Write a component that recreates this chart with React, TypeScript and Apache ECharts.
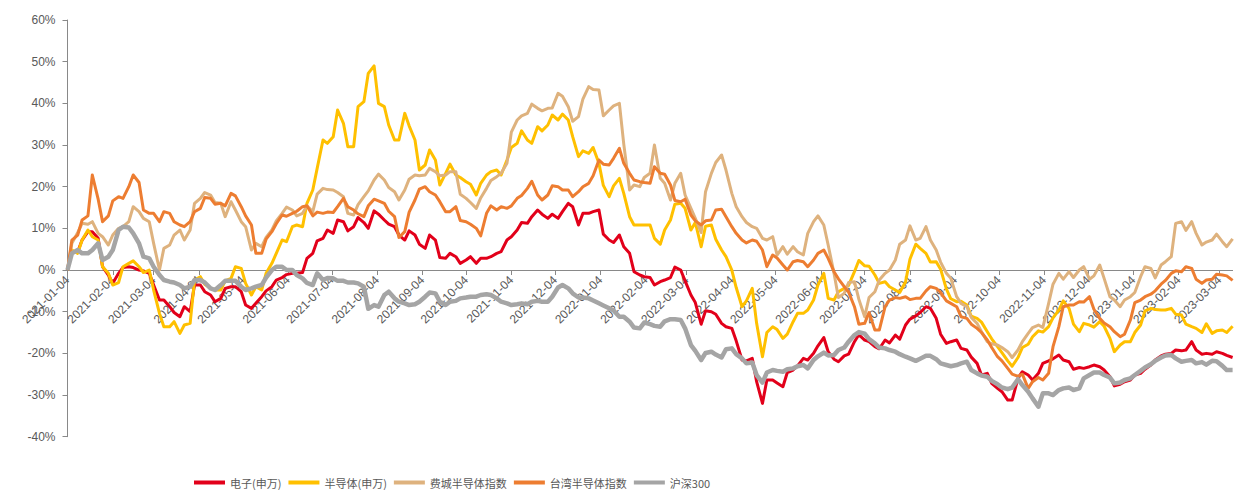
import React, { useEffect, useRef } from 'react';
import * as echarts from 'echarts';

// Calendar range of the x axis (one category per calendar day)
const START_UTC = Date.UTC(2021, 0, 4);
const END_UTC = Date.UTC(2023, 2, 13);

const seriesNames = ['电子(申万)', '半导体(申万)', '费城半导体指数', '台湾半导体指数', '沪深300'];

// Sample points: every Monday and Thursday from 2021-01-04 (offset in days from start)
const sampleOffsets: number[] = [];
for (let w = 0; w <= 114; w++) {
  sampleOffsets.push(w * 7);
  if (w < 114) sampleOffsets.push(w * 7 + 3);
}

// Cumulative return, % (Mon, Thu, Mon, Thu, ...)
const dianzi = [
  0, 4.4, 4.4, 7.2, 9.2, 9.2, 7.6, 0.8, -1.2, -3.2, -0.8, 0.6, 0.8, 0.6, 0, -0.2, -0.8, -3.6, -7.2, -7.2,
  -8.8, -10.2, -11.2, -8.8, -10, -3.6, -3.6, -5.2, -6, -7.6, -6.8, -4.4, -4, -4, -5.2, -8.4, -9.2, -8,
  -6.4, -5, -4, -2.4, -1.8, -1.1, -0.8, -0.8, -0.6, 2.8, 4, 7, 7.6, 9.6, 8.8, 12, 11.6, 9.4, 10.4, 12.6,
  11.4, 10, 14.2, 13.4, 12, 11, 10.4, 8.4, 7.2, 9.4, 8.4, 6.2, 5.2, 8.4, 7.2, 3, 2.8, 4,
  3.2, 1.6, 2.4, 3.2, 1.6, 2.8, 2.8, 3.2, 4, 4.4, 7.2, 8, 9.6, 11.4, 11.2, 12.8, 14.4, 13.4, 12.4, 13.4,
  12.4, 14, 16, 15.2, 10.8, 13.6, 13.6, 14, 14.4, 8.6, 7.2, 6.6, 8.4, 5.6, 4, -0.4, -1.2, -1.6,
  -1.8, -3.6, -2.8, -2.4, -1.8, 0.7, 0, -2.6, -6, -7.8, -13, -9.8, -10, -10.6, -12.8, -13.6, -14, -17,
  -21.6, -21.8, -21.2, -26.8, -32, -26.4, -26.4, -27.1, -28, -24.6, -24, -23, -21.2, -21.6, -20, -18.2, -16.2, -19.6,
  -21.4, -22, -20.6, -20.2, -17.2, -15.5, -16.8, -17.2, -18.4, -18.9, -16.8, -17.5, -15.6, -16.6, -13.2, -11.8, -11, -10.2, -8.8, -9.2,
  -11.6, -15.4, -17.6, -17.2, -16.8, -18.8, -19.2, -20.9, -22.4, -25.2, -24.8, -27.2, -28.4, -29.2, -31.2, -31.2, -26, -24.4,
  -25.2, -26.4, -24.8, -22.4, -21.8, -21.3, -20.4, -21.6, -22, -23.8, -23.4, -23.6, -23.2, -22.8, -23.2, -24, -25.6, -27.8, -27.4, -26.8,
  -26.4, -25.2, -24.8, -23.8, -22.8, -21.6, -20.6, -20.2, -20, -19.2, -19.4, -19.2, -17.2, -19.2, -20.2, -20, -20.2, -19.6, -20, -20.5, -21,
];
const bandaoti = [
  0, 4.8, 4, 7.2, 9.6, 8, 7.2, 0.8, -0.8, -3.6, -3, 0.8, 1.6, 2.2, 0.8, -0.6, 0, -4.8, -10.4, -13.6,
  -13.6, -12.4, -15.2, -13.2, -12.8, -2.4, -1.6, -3.4, -4.4, -4.8, -4.8, -2.6, -2, 0.8, 0.4, -3.2, -6, -4,
  -4.8, -0.8, 1.6, 4, 7.2, 6.8, 10.4, 10.8, 10.4, 16, 19.2, 24.4, 31.2, 30.4, 32, 38.4, 35.2, 29.6, 29.6, 39.2,
  40.4, 47.2, 49, 40, 39.2, 34.8, 31.2, 31.2, 37.6, 34.6, 31.2, 24, 25.2, 28.8, 26.4, 20.4, 23.2, 25.4,
  22.8, 22.2, 21.2, 20.6, 18, 20.8, 22.8, 23.6, 24, 22.8, 26.4, 29.4, 30.4, 33.4, 31.2, 30.4, 34.4, 33.4, 34.8, 37.2,
  36, 37.4, 36, 32, 27.2, 28.6, 28, 29.4, 25.6, 20.3, 17.6, 20.2, 22, 18.4, 12.8, 10.8, 10.8, 10.8,
  10.8, 7.6, 6.2, 9.6, 12, 15.8, 16, 14.8, 9.6, 11.4, 5.6, 10.5, 10.8, 7.4, 4.8, 3.2, 0, -4.2,
  -8.8, -7.4, -4.4, -12.8, -20.8, -15, -13.6, -14.3, -16.4, -15.4, -12.4, -10.4, -10.4, -9.6, -7.2, -3.6, -0.8, -6.8,
  -7.2, -5.2, -4.4, -3.7, -0.4, 2.3, 1, 0.9, -1.2, -3.2, -2.8, -4, -4.8, -5.4, -2.8, 2.6, 6.2, 5.2, 4, 1.9,
  2, 0.2, -4.6, -6.9, -7.6, -7.5, -8.4, -11.1, -11.6, -12.5, -14.8, -16.5, -18.4, -19.8, -21.8, -23.1, -21, -18.6,
  -17.8, -16, -14.6, -14.9, -13.6, -11.5, -9.6, -7.4, -9.2, -13, -14.8, -12.8, -13.2, -13.7, -12.4, -13.5, -16.4, -19.6, -18, -17.2,
  -17.2, -15, -13.2, -9.8, -9.2, -9.5, -9.6, -9.6, -9.2, -10.6, -10.8, -13, -13.6, -14, -15, -12.9, -15.2, -14.6, -14.4, -15, -13.5,
];
const feicheng = [
  0, 6.4, 9, 11.2, 11, 11.6, 8.8, 8, 6, 8.4, 10, 10.4, 11.6, 15.2, 14, 12.4, 11.6, 6.4, 0, 5.2,
  6, 8.4, 9.6, 7.2, 9.6, 16, 17.2, 18.6, 18, 16.2, 16, 12.8, 16.4, 14.4, 11.6, 10.4, 4.8, 6.4,
  5.6, 7.8, 9.6, 11.8, 13.6, 15.1, 14.4, 13, 13.6, 15.4, 14, 18.2, 19.6, 19.3, 19.2, 18.6, 17.6, 13.6, 13.2, 15.7,
  17.6, 19, 21.6, 23, 21.6, 19.8, 18.8, 16.8, 19.2, 21.8, 22.8, 22.6, 22.8, 24.4, 23.6, 22.6, 22.8, 23.6,
  23.6, 18.2, 17.2, 16.2, 14.8, 17.3, 19.6, 21.5, 22.4, 23.2, 25.6, 33.1, 36, 37, 37.6, 39.8, 38.8, 38.2, 38.8, 38.9,
  42.4, 41.7, 39.2, 35.7, 36.8, 41, 44, 43.3, 43.2, 37, 38.4, 39.4, 40, 30.2, 19.2, 20.4, 20, 22.2,
  23.2, 30, 22, 20.8, 16.8, 20.8, 23.2, 18, 14.8, 12.4, 9, 18.8, 23.2, 25.8, 27.6, 24, 18.4, 15.2,
  12.8, 11.4, 10.4, 10, 7.6, 7.2, 8, 3.6, 5.6, 3.8, 5.6, 4.4, 3.6, 8.8, 11.6, 13, 10.8, 6,
  -0.8, -6.6, -5.6, -3, -2.8, -7, -11.2, -6.6, -5.2, -2.4, -0.8, 0, 2.4, 6.2, 7.2, 10.6, 7.2, 7.6, 10.4, 7.2,
  4.8, 1.9, -0.8, -2, -6.4, -8, -8.8, -11.4, -12.8, -14.8, -17.2, -17.7, -18, -18.6, -19.6, -21, -19.2, -17.2,
  -15.2, -13.8, -13.2, -13.8, -8, -3.4, -0.8, -2.2, -0.4, -1.8, 0, 0.8, -2.2, -1.4, 1.2, -2, -6.4, -7.2, -8.8, -7.2,
  -6.4, -5.4, -1.6, 0.8, 0.4, -1.9, 1.2, 2, 3.2, 11.2, 11.6, 9.5, 11.6, 8.8, 6, 6.7, 7.2, 8.6, 6.8, 5.6, 7.5,
];
const taiwan = [
  0, 7.2, 8.4, 12, 13, 22.8, 17, 11.6, 13, 16.6, 17.6, 17.2, 20, 22.8, 21, 14.4, 13.6, 13.6, 11.6, 14,
  13.6, 11.6, 10.8, 10.4, 11.6, 14, 14.8, 17.4, 17.2, 15.8, 16, 15.4, 18.4, 17.8, 15.2, 13, 10.8, 4,
  4, 7.4, 9.2, 11.1, 13.2, 12.9, 13.6, 14.1, 15.2, 15.4, 13, 13.9, 13.6, 13.9, 13.8, 15.2, 17.2, 15.2, 14.4, 13.5,
  12.8, 15.4, 17, 16.6, 16, 14.1, 12.8, 7.8, 9.2, 13.9, 16.8, 19.4, 20, 18.8, 18, 16.4, 14, 14,
  15.2, 11.9, 11.6, 11, 10, 8.2, 13.6, 15.4, 14.4, 15.2, 14.8, 15.4, 17.2, 17.9, 19.6, 21.3, 18, 16.8, 18, 20.2,
  20, 19.2, 19.2, 17.6, 18.8, 20, 20.8, 22.6, 26.4, 25.4, 25.2, 26.8, 29.2, 25.6, 23.2, 21.6, 21.2, 21,
  20.8, 24.8, 23.2, 23, 20.4, 16.7, 16.4, 17, 13.2, 11.8, 10.8, 11.8, 12, 14.4, 14.6, 12.8, 10.4, 8.8,
  7.2, 6.5, 7.2, 6.9, 4.8, 0.8, 3.6, 2.9, 1.2, 0, 2, 2.3, 2, 0.8, 2.4, 4, 4.8, 2.8,
  -0.4, -2.1, -4, -5.3, -8.8, -13, -12.8, -10.2, -14.4, -14.4, -8.8, -7.2, -6.6, -6.8, -6.4, -7.1, -6.8, -6.8, -5, -4,
  -4.4, -5.4, -7.4, -8, -8.8, -11.2, -11.6, -13, -14, -15, -16.8, -18.6, -20.8, -21.8, -23.6, -25, -25.5, -25,
  -28.4, -26.8, -25.8, -26.4, -24.8, -18.4, -13.6, -8.8, -8.4, -8.4, -7.6, -7.7, -6.4, -9.4, -11.6, -12.7, -13.6, -14.8, -16, -15.4,
  -12, -7.8, -7.2, -6.4, -5.8, -5, -3.4, -2.5, -0.8, -0.2, -0.4, 0.8, 0.4, -2.2, -3.2, -2.4, -2.2, -1, -1.2, -1.4, -2.5,
];
const hs300 = [
  0, 4, 4.8, 4, 4, 4.8, 6.4, 2.4, 3.2, 4.8, 9.6, 10.4, 10.2, 8.8, 6.4, 3.2, 2.8, 0.8, -1.2, -2.4,
  -2.8, -3, -3.6, -4.4, -4, -2.4, -2.4, -3, -4.4, -4.8, -3.6, -2.6, -2.6, -2.6, -4, -4.8, -4.4, -4,
  -3.6, -1.8, 0, 0.8, 0.8, 0, 0, -1.2, -2, -3.1, -3.6, -0.8, -2.4, -1.9, -2, -2.6, -2.6, -3, -3, -3.2,
  -4, -9.3, -8.4, -8.8, -6, -5.2, -6.8, -7.6, -8, -8.4, -8.2, -7.6, -6.4, -5.4, -5.6, -7.6, -8.4, -7.6,
  -7.4, -6.8, -6.6, -6.4, -6.4, -6, -5.8, -6, -6.8, -7.6, -8, -8.4, -8.2, -8, -8.2, -7.6, -7.4, -7.6, -7.6, -6.4,
  -4.2, -3.6, -4.4, -5.6, -6.6, -6.6, -6.8, -7.3, -8, -8.5, -9.2, -9.7, -11.2, -11.2, -12.4, -13.8, -14, -12.6,
  -13, -13.4, -13.6, -12.3, -11.8, -11.8, -12, -14, -18, -19.4, -21.6, -19.9, -19.6, -20.3, -21, -19, -18.8, -20.2,
  -21.2, -22.4, -22.2, -25.2, -27, -24.6, -24, -24.2, -24.4, -23.8, -23.6, -23.1, -22.8, -23.6, -21.6, -20.7, -19.8, -20.5,
  -20.4, -19.2, -18.6, -17.2, -15.6, -14.9, -15.3, -16.6, -17.6, -18.6, -18.8, -19.2, -19.6, -20.2, -20.8, -21.2, -21.8, -21.3, -20.6, -20.6,
  -21.4, -22.4, -22.8, -23.1, -22.8, -22.4, -22, -24, -24.8, -25.3, -25.6, -26.6, -27.4, -28.2, -28.6, -28.2, -26.2, -27.6,
  -29.2, -30.8, -32.8, -29.6, -29.6, -30, -28.8, -28.4, -28.2, -28.8, -28.4, -26, -25.2, -24.6, -24.6, -25.2, -25.8, -27.2, -27, -26.4,
  -26, -25.2, -24.2, -23.4, -22.6, -21.8, -21, -20.5, -20.4, -21.2, -22, -21.8, -21.6, -22.4, -22.1, -22.7, -21.8, -21.9, -23, -24, -24,
];

const seriesValues = [dianzi, bandaoti, feicheng, taiwan, hs300];
const seriesColors = ['#E2001A', '#FFC000', '#DEB27E', '#ED7D31', '#A5A5A5'];
const seriesWidths = [3, 3, 3, 3, 4.5];

const Y_MIN = -40;
const Y_MAX = 60;
const GRID_TOP = 20;
const GRID_BOTTOM = 53.3;
const CHART_H = 490;

function buildDays(): string[] {
  const out: string[] = [];
  for (let t = START_UTC; t <= END_UTC; t += 86400000) {
    out.push(new Date(t).toISOString().slice(0, 10));
  }
  return out;
}

const showMonthTick = (_i: number, v: string) => v.slice(8, 10) === '04';

export default function App() {
  const ref = useRef<HTMLDivElement>(null);
  useEffect(() => {
    if (!ref.current) return;
    const chart = echarts.init(ref.current, undefined, { renderer: 'svg' });
    const days = buildDays();
    const axisColor = '#898989';
    const labelColor = '#595959';
    // place the category axis on the 0% line
    const gridH = CHART_H - GRID_TOP - GRID_BOTTOM;
    const zeroOffset = -(gridH * (0 - Y_MIN)) / (Y_MAX - Y_MIN);
    chart.setOption({
      animation: false,
      backgroundColor: '#ffffff',
      grid: { left: 67.5, right: 1.4, top: GRID_TOP, bottom: GRID_BOTTOM, containLabel: false, outerBoundsMode: 'none' },
      legend: {
        data: seriesNames,
        left: 194,
        top: 477,
        padding: 0,
        icon: 'rect',
        itemWidth: 31,
        itemHeight: 4,
        itemGap: 7,
        textStyle: { fontSize: 11, color: labelColor, fontFamily: 'Noto Sans CJK SC' },
      },
      xAxis: {
        type: 'category',
        data: days,
        boundaryGap: false,
        position: 'bottom',
        offset: zeroOffset,
        axisLine: { onZero: false, lineStyle: { color: axisColor, width: 1 } },
        axisTick: { show: true, interval: showMonthTick, length: 5, lineStyle: { color: axisColor } },
        axisLabel: {
          interval: showMonthTick,
          rotate: 45,
          fontSize: 12,
          color: labelColor,
          fontFamily: 'Liberation Sans',
          margin: 8,
          hideOverlap: false,
        },
        splitLine: { show: false },
      },
      yAxis: {
        type: 'value',
        min: Y_MIN,
        max: Y_MAX,
        interval: 10,
        axisLine: { show: true, lineStyle: { color: axisColor, width: 1 } },
        axisTick: { show: true, length: 5, lineStyle: { color: axisColor } },
        axisLabel: {
          formatter: '{value}%',
          fontSize: 12,
          color: labelColor,
          fontFamily: 'Liberation Sans',
          margin: 12,
        },
        splitLine: { show: false },
      },
      series: seriesNames.map((name, si) => ({
        name,
        type: 'line',
        symbol: 'none',
        showSymbol: false,
        color: seriesColors[si],
        lineStyle: { width: seriesWidths[si], color: seriesColors[si], join: 'round' },
        itemStyle: { color: seriesColors[si] },
        data: seriesValues[si].map((v, i) => [sampleOffsets[i], v]),
      })),
    });
    return () => chart.dispose();
  }, []);
  return (
    <div
      ref={ref}
      style={{ position: 'fixed', left: 0, top: 0, width: 1234, height: 490, background: '#fff' }}
    />
  );
}
